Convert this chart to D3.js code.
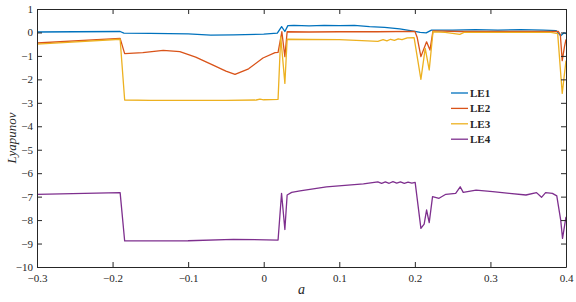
<!DOCTYPE html>
<html>
<head>
<meta charset="utf-8">
<script src="https://cdn.jsdelivr.net/npm/d3@7"></script>
<style>
  body { margin: 0; background: #fff; }
  svg text { font-family: "Liberation Serif", "Times New Roman", serif; }
</style>
</head>
<body>
<div id="chart"></div>
<script>
// Lyapunov exponents vs parameter a
const aLE1 = [-0.3, -0.25, -0.19, -0.185, -0.15, -0.1, -0.07, -0.04, 0.0, 0.018, 0.0237, 0.028, 0.032, 0.04, 0.06, 0.08, 0.1, 0.12, 0.14, 0.16, 0.18, 0.2, 0.207, 0.215, 0.222, 0.25, 0.28, 0.31, 0.34, 0.37, 0.387, 0.393, 0.397, 0.4];
const LE1 = [0.02, 0.03, 0.04, -0.03, -0.04, -0.06, -0.11, -0.1, -0.07, -0.03, 0.25, 0.04, 0.29, 0.3, 0.28, 0.3, 0.29, 0.3, 0.25, 0.22, 0.15, 0.05, 0.0, -0.02, 0.1, 0.1, 0.12, 0.1, 0.12, 0.1, 0.08, -0.14, -0.02, -0.05];

const aLE2 = [-0.3, -0.19, -0.184, -0.16, -0.133, -0.111, -0.09, -0.067, -0.05, -0.038, -0.02, -0.001, 0.015, 0.019, 0.024, 0.028, 0.031, 0.06, 0.1, 0.15, 0.2, 0.203, 0.208, 0.2155, 0.22, 0.224, 0.26, 0.3, 0.35, 0.39, 0.3925, 0.395, 0.398, 0.4];
const LE2 = [-0.45, -0.25, -0.9, -0.86, -0.76, -0.82, -1.05, -1.39, -1.65, -1.79, -1.55, -1.09, -0.86, -0.85, 0.03, -1.03, 0.03, 0.02, 0.03, 0.03, 0.05, -0.2, -1.03, -0.4, -0.75, 0.07, 0.04, 0.05, 0.05, 0.04, -0.1, -1.2, -0.6, -0.3];

const aLE3 = [-0.3, -0.19, -0.184, -0.15, -0.1, -0.05, -0.01, -0.005, 0.0, 0.019, 0.0225, 0.028, 0.031, 0.06, 0.1, 0.13, 0.151, 0.158, 0.163, 0.168, 0.173, 0.178, 0.183, 0.19, 0.199, 0.208, 0.2137, 0.219, 0.224, 0.24, 0.2595, 0.265, 0.3, 0.34, 0.38, 0.389, 0.395, 0.4];
const LE3 = [-0.5, -0.29, -2.88, -2.9, -2.9, -2.9, -2.88, -2.84, -2.87, -2.85, -0.18, -2.17, -0.29, -0.3, -0.31, -0.35, -0.38, -0.31, -0.36, -0.29, -0.34, -0.27, -0.31, -0.23, -0.22, -2.0, -0.68, -1.6, 0.03, 0.0, -0.08, 0.0, 0.0, 0.0, 0.0, -0.05, -2.6, -1.2];

const aLE4 = [-0.3, -0.19, -0.184, -0.1, -0.04, 0.019, 0.0236, 0.028, 0.031, 0.037, 0.048, 0.083, 0.132, 0.151, 0.156, 0.161, 0.166, 0.171, 0.176, 0.181, 0.186, 0.191, 0.196, 0.2004, 0.208, 0.2123, 0.2155, 0.219, 0.2234, 0.232, 0.241, 0.254, 0.26, 0.264, 0.281, 0.303, 0.325, 0.347, 0.361, 0.3676, 0.373, 0.382, 0.3878, 0.393, 0.3954, 0.4];
const LE4 = [-6.9, -6.83, -8.89, -8.88, -8.82, -8.85, -6.86, -8.4, -6.93, -6.82, -6.75, -6.58, -6.46, -6.37, -6.43, -6.37, -6.43, -6.36, -6.42, -6.37, -6.43, -6.38, -6.42, -6.39, -8.35, -8.17, -7.57, -8.11, -7.0, -7.07, -6.9, -6.86, -6.58, -6.82, -6.72, -6.79, -6.86, -6.93, -6.83, -7.03, -6.83, -6.86, -6.97, -8.0, -8.78, -7.86];

const seriesNames = ["LE1", "LE2", "LE3", "LE4"];
const colors = ["#0072BD", "#D95319", "#EDB120", "#7E2F8E"];
const xTicks = [-0.3, -0.2, -0.1, 0, 0.1, 0.2, 0.3, 0.4];
const yTicks = [1, 0, -1, -2, -3, -4, -5, -6, -7, -8, -9, -10];

const width = 576, height = 302;
const margin = { top: 9, right: 10, bottom: 35, left: 37 };

const svg = d3.select("#chart").append("svg")
  .attr("width", width)
  .attr("height", height);

const x = d3.scaleLinear().domain([-0.3, 0.4]).range([margin.left, width - margin.right]);
const y = d3.scaleLinear().domain([-10, 1]).range([height - margin.bottom, margin.top]);

const series = [
  { name: "LE1", a: aLE1, v: LE1 },
  { name: "LE2", a: aLE2, v: LE2 },
  { name: "LE3", a: aLE3, v: LE3 },
  { name: "LE4", a: aLE4, v: LE4 },
];

const line = d3.line().x(d => x(d[0])).y(d => y(d[1]));

svg.append("g").selectAll("path")
  .data(series)
  .join("path")
  .attr("fill", "none")
  .attr("stroke", (d, i) => colors[i])
  .attr("stroke-width", 1.3)
  .attr("stroke-linejoin", "round")
  .attr("d", d => line(d.a.map((a, i) => [a, d.v[i]])));

const fmt = d => d === 0 ? "0" : d3.format("")(d);
const axisColor = "#262626";

function styleAxis(g) {
  g.select(".domain").attr("stroke", axisColor).attr("stroke-width", 1);
  g.selectAll(".tick line").attr("stroke", axisColor);
  g.selectAll(".tick text").attr("fill", "#262626").attr("font-size", 11);
}

svg.append("g")
  .attr("transform", `translate(0,${height - margin.bottom})`)
  .call(d3.axisBottom(x).tickValues(xTicks).tickFormat(fmt).tickSizeInner(-5).tickSizeOuter(0).tickPadding(7))
  .call(styleAxis);

svg.append("g")
  .attr("transform", `translate(0,${margin.top})`)
  .call(d3.axisTop(x).tickValues(xTicks).tickFormat("").tickSizeInner(-5).tickSizeOuter(0))
  .call(styleAxis);

svg.append("g")
  .attr("transform", `translate(${margin.left},0)`)
  .call(d3.axisLeft(y).tickValues(yTicks).tickFormat(fmt).tickSizeInner(-5).tickSizeOuter(0).tickPadding(4))
  .call(styleAxis);

svg.append("g")
  .attr("transform", `translate(${width - margin.right},0)`)
  .call(d3.axisRight(y).tickValues(yTicks).tickFormat("").tickSizeInner(-5).tickSizeOuter(0))
  .call(styleAxis);

// axis labels
svg.append("text")
  .attr("x", (margin.left + width - margin.right) / 2)
  .attr("y", 294)
  .attr("text-anchor", "middle")
  .attr("font-style", "italic")
  .attr("font-size", 14)
  .attr("fill", "#262626")
  .text("a");

svg.append("text")
  .attr("transform", `translate(16,${(margin.top + height - margin.bottom) / 2}) rotate(-90)`)
  .attr("text-anchor", "middle")
  .attr("font-style", "italic")
  .attr("font-size", 13)
  .attr("fill", "#262626")
  .text("Lyapunov");

// legend
const legend = svg.append("g").attr("transform", "translate(451,93)");
const items = legend.selectAll("g")
  .data(seriesNames)
  .join("g")
  .attr("transform", (d, i) => `translate(0,${i * 15.4})`);
items.append("line")
  .attr("x1", 0).attr("x2", 17)
  .attr("stroke", (d, i) => colors[i])
  .attr("stroke-width", 1.3);
items.append("text")
  .attr("x", 19)
  .attr("dy", "0.35em")
  .attr("font-size", 11)
  .attr("font-weight", "bold")
  .attr("fill", "#262626")
  .text(d => d);
</script>
</body>
</html>
